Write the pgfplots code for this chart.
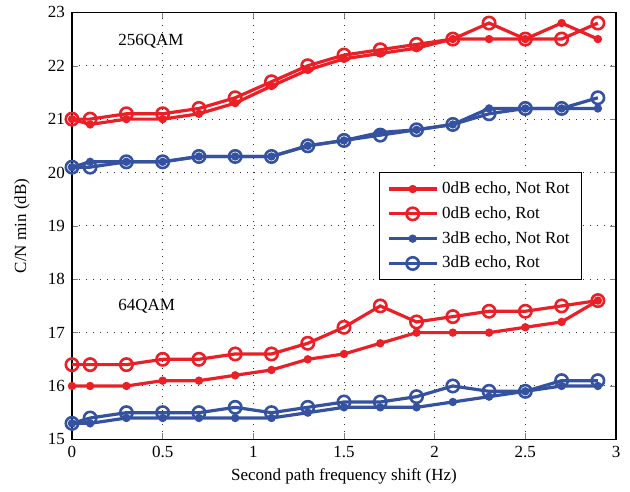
\documentclass[border=0pt]{standalone}
\usepackage{pgfplots}
\pgfplotsset{compat=1.18}
\usepackage{fontspec}
\setmainfont{Liberation Serif}
\definecolor{mred}{RGB}{235,32,38}
\definecolor{mblue}{RGB}{52,82,160}
\newcommand{\fsz}{\fontsize{8.5}{10}\selectfont}
\begin{document}
\begin{tikzpicture}
\begin{axis}[
    scale only axis,
    width=272pt,
    height=213.5pt,
    xmin=0, xmax=3,
    ymin=15, ymax=23,
    xtick={0,0.5,...,3},
    ytick={15,16,...,23},
    tick align=inside,
    tick pos=both,
    major tick length=3pt,
    xmajorgrids, ymajorgrids,
    grid style={black!80, dash pattern=on 0.5pt off 3pt, line width=0.5pt},
    axis line style={black, line width=0.6pt},
    /pgf/number format/assume math mode=true,
    tick label style={font=\fsz},
    label style={font=\fsz},
    xlabel={Second path frequency shift (Hz)},
    ylabel={C/N min (dB)},
    xlabel style={at={(axis description cs:0.5,-0.0866)}, anchor=center},
    ylabel style={at={(axis description cs:-0.092,0.5)}, anchor=center},
    legend style={at={(0.938,0.626)}, anchor=north east, draw=black, line width=0.6pt,
        font=\fsz, row sep=1pt, inner xsep=4pt, inner ysep=2.5pt},
    legend cell align=left,
    legend image code/.code={\draw[mark repeat=2, mark phase=2] plot coordinates {(0cm,0cm) (0.42cm,0cm) (0.84cm,0cm)};},
    every axis plot/.append style={line width=1.6pt},
    dotmark/.style={mark=*, mark size=1.25pt, mark options={solid}},
    circmark/.style={mark=o, mark size=3.1pt, mark options={solid, line width=1.3pt}},
]
% 256QAM
\addplot[mred, dotmark] coordinates {(0,21.0) (0.1,20.9) (0.3,21.0) (0.5,21.0) (0.7,21.1) (0.9,21.3) (1.1,21.62) (1.3,21.92) (1.5,22.13) (1.7,22.23) (1.9,22.33) (2.1,22.5) (2.3,22.5) (2.5,22.5) (2.7,22.8) (2.9,22.5)};
\addplot[mred, circmark] coordinates {(0,21.0) (0.1,21.0) (0.3,21.1) (0.5,21.1) (0.7,21.2) (0.9,21.4) (1.1,21.7) (1.3,22.0) (1.5,22.2) (1.7,22.3) (1.9,22.4) (2.1,22.5) (2.3,22.8) (2.5,22.5) (2.7,22.5) (2.9,22.8)};
\addplot[mblue, dotmark] coordinates {(0,20.1) (0.1,20.2) (0.3,20.2) (0.5,20.2) (0.7,20.3) (0.9,20.3) (1.1,20.3) (1.3,20.5) (1.5,20.6) (1.7,20.75) (1.9,20.8) (2.1,20.9) (2.3,21.2) (2.5,21.2) (2.7,21.2) (2.9,21.2)};
\addplot[mblue, circmark] coordinates {(0,20.1) (0.1,20.1) (0.3,20.2) (0.5,20.2) (0.7,20.3) (0.9,20.3) (1.1,20.3) (1.3,20.5) (1.5,20.6) (1.7,20.7) (1.9,20.8) (2.1,20.9) (2.3,21.1) (2.5,21.2) (2.7,21.2) (2.9,21.4)};
\legend{{0dB echo, Not Rot}, {0dB echo, Rot}, {3dB echo, Not Rot}, {3dB echo, Rot}}
% 64QAM
\addplot[mred, dotmark, forget plot] coordinates {(0,16.0) (0.1,16.0) (0.3,16.0) (0.5,16.1) (0.7,16.1) (0.9,16.2) (1.1,16.3) (1.3,16.5) (1.5,16.6) (1.7,16.8) (1.9,17.0) (2.1,17.0) (2.3,17.0) (2.5,17.1) (2.7,17.2) (2.9,17.6)};
\addplot[mred, circmark, forget plot] coordinates {(0,16.4) (0.1,16.4) (0.3,16.4) (0.5,16.5) (0.7,16.5) (0.9,16.6) (1.1,16.6) (1.3,16.8) (1.5,17.1) (1.7,17.5) (1.9,17.2) (2.1,17.3) (2.3,17.4) (2.5,17.4) (2.7,17.5) (2.9,17.6)};
\addplot[mblue, dotmark, forget plot] coordinates {(0,15.3) (0.1,15.3) (0.3,15.4) (0.5,15.4) (0.7,15.4) (0.9,15.4) (1.1,15.4) (1.3,15.5) (1.5,15.6) (1.7,15.6) (1.9,15.6) (2.1,15.7) (2.3,15.8) (2.5,15.9) (2.7,16.0) (2.9,16.0)};
\addplot[mblue, circmark, forget plot] coordinates {(0,15.3) (0.1,15.4) (0.3,15.5) (0.5,15.5) (0.7,15.5) (0.9,15.6) (1.1,15.5) (1.3,15.6) (1.5,15.7) (1.7,15.7) (1.9,15.8) (2.1,16.0) (2.3,15.9) (2.5,15.9) (2.7,16.1) (2.9,16.1)};
\node[anchor=west, inner sep=0pt, font=\fsz] at (axis cs:0.253,22.46) {256QAM};
\node[anchor=west, inner sep=0pt, font=\fsz] at (axis cs:0.253,17.5) {64QAM};
\end{axis}
\path (current axis.south west) ++(-36pt,-26pt);
\path (current axis.north east) ++(7pt,4pt);
\end{tikzpicture}
\end{document}
